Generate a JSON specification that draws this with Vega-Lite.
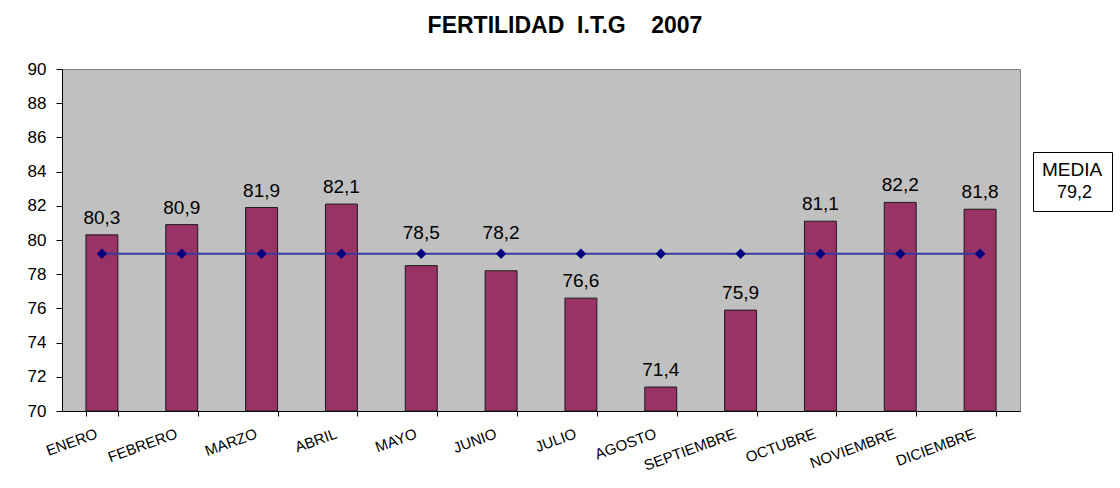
{
  "$schema": "https://vega.github.io/schema/vega-lite/v6.json",
  "width": 958,
  "height": 342,
  "autosize": "none",
  "padding": {"left": 62, "top": 69, "right": 100, "bottom": 77},
  "background": "white",
  "title": {
    "text": "FERTILIDAD\u00a0\u00a0I.T.G\u00a0\u00a0\u00a0\u00a02007",
    "font": "Liberation Sans",
    "fontSize": 23,
    "fontWeight": "bold",
    "color": "black",
    "anchor": "middle",
    "offset": 22,
    "dx": 24
  },
  "config": {
    "locale": {"number": {"decimal": ",", "thousands": ".", "grouping": [3], "currency": ["", ""]}},
    "view": {"fill": "#C0C0C0", "stroke": "#808080"},
    "font": "Liberation Sans",
    "axisY": {
      "tickCount": 10,
      "grid": false,
      "labelOverlap": false,
      "domainColor": "black",
      "tickColor": "black",
      "tickSize": 6,
      "labelFontSize": 17,
      "labelFont": "Liberation Sans",
      "labelColor": "black",
      "labelPadding": 10
    }
  },
  "data": {
    "values": [
      {"mes": "ENERO", "valor": 80.3, "media": 79.2, "base": 70},
      {"mes": "FEBRERO", "valor": 80.9, "media": 79.2, "base": 70},
      {"mes": "MARZO", "valor": 81.9, "media": 79.2, "base": 70},
      {"mes": "ABRIL", "valor": 82.1, "media": 79.2, "base": 70},
      {"mes": "MAYO", "valor": 78.5, "media": 79.2, "base": 70},
      {"mes": "JUNIO", "valor": 78.2, "media": 79.2, "base": 70},
      {"mes": "JULIO", "valor": 76.6, "media": 79.2, "base": 70},
      {"mes": "AGOSTO", "valor": 71.4, "media": 79.2, "base": 70},
      {"mes": "SEPTIEMBRE", "valor": 75.9, "media": 79.2, "base": 70},
      {"mes": "OCTUBRE", "valor": 81.1, "media": 79.2, "base": 70},
      {"mes": "NOVIEMBRE", "valor": 82.2, "media": 79.2, "base": 70},
      {"mes": "DICIEMBRE", "valor": 81.8, "media": 79.2, "base": 70}
    ]
  },
  "encoding": {
    "x": {
      "field": "mes",
      "type": "nominal",
      "sort": null,
      "scale": {"paddingInner": 0.6, "paddingOuter": 0.3},
      "axis": {
        "title": null,
        "labelAngle": -20,
        "labelAlign": "right",
        "labelBaseline": "top",
        "labelFontSize": 15,
        "labelFont": "Liberation Sans",
        "labelPadding": 10,
        "labelOffset": -8,
        "labelOverlap": false,
        "tickBand": "extent",
        "tickSize": 5,
        "domainColor": "black",
        "tickColor": "black",
        "labelColor": "black",
        "grid": false
      }
    }
  },
  "layer": [
    {
      "mark": {"type": "bar", "fill": "#993366", "stroke": "#1a1a1a", "strokeWidth": 1},
      "encoding": {
        "y": {
          "field": "valor",
          "type": "quantitative",
          "scale": {"domain": [70, 90], "nice": false, "zero": false},
          "axis": {"title": null}
        },
        "y2": {"field": "base"}
      }
    },
    {
      "transform": [{"filter": {"not": {"field": "mes", "oneOf": ["MAYO", "JUNIO"]}}}],
      "mark": {"type": "text", "dy": -11, "baseline": "alphabetic", "fontSize": 19, "color": "black", "font": "Liberation Sans"},
      "encoding": {
        "y": {"field": "valor", "type": "quantitative", "axis": {"title": null}},
        "text": {"field": "valor", "type": "quantitative", "format": ".1f"}
      }
    },
    {
      "transform": [{"filter": {"field": "mes", "oneOf": ["MAYO", "JUNIO"]}}],
      "mark": {"type": "text", "dy": -15, "baseline": "alphabetic", "fontSize": 19, "color": "black", "font": "Liberation Sans"},
      "encoding": {
        "y": {"field": "media", "type": "quantitative", "axis": {"title": null}},
        "text": {"field": "valor", "type": "quantitative", "format": ".1f"}
      }
    },
    {
      "mark": {"type": "line", "color": "#3a3a9c", "strokeWidth": 2},
      "encoding": {
        "y": {"field": "media", "type": "quantitative", "axis": {"title": null}}
      }
    },
    {
      "mark": {"type": "point", "filled": true, "color": "#000080", "size": 110, "opacity": 1},
      "encoding": {
        "y": {"field": "media", "type": "quantitative", "axis": {"title": null}},
        "shape": {
          "datum": "79,2",
          "scale": {"range": ["diamond"]},
          "legend": {
            "title": "MEDIA",
            "orient": "none",
            "legendX": 971,
            "legendY": 83,
            "strokeColor": "black",
            "fillColor": "white",
            "padding": 9,
            "titleFontSize": 19,
            "titleFont": "Liberation Sans",
            "titleFontWeight": "normal",
            "titleColor": "black",
            "titleAnchor": "middle",
            "titleAlign": "center",
            "titlePadding": 4,
            "labelFontSize": 18,
            "labelFont": "Liberation Sans",
            "labelColor": "black",
            "symbolSize": 0,
            "symbolOpacity": 0,
            "symbolStrokeWidth": 0,
            "labelOffset": -12
          }
        }
      }
    }
  ]
}
